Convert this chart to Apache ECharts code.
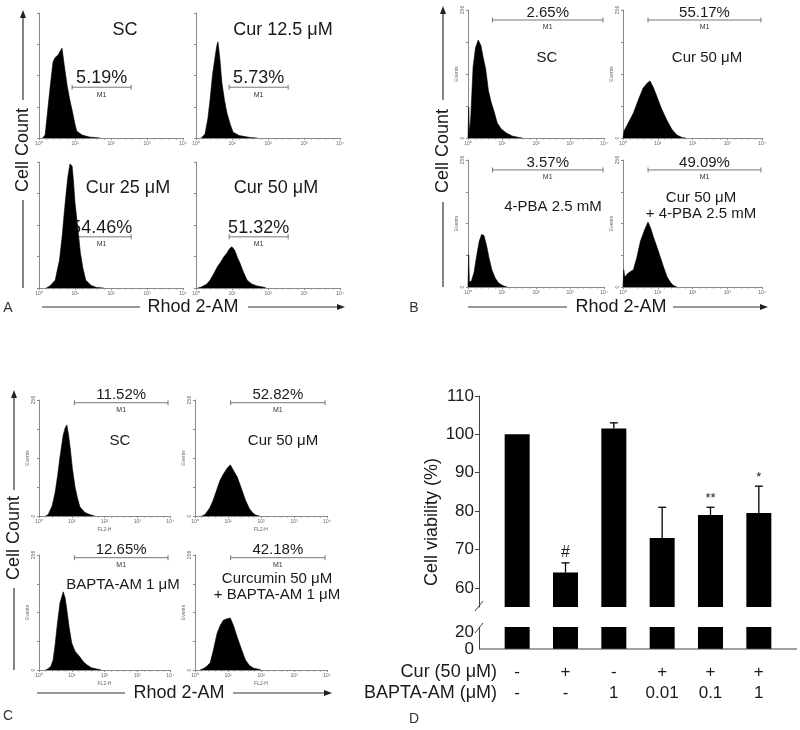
<!DOCTYPE html>
<html>
<head>
<meta charset="utf-8">
<script src="https://cdn.jsdelivr.net/npm/echarts@6/dist/echarts.min.js"></script>
<style>
  html, body { margin: 0; padding: 0; background: #fff; }
  #main { width: 800px; height: 730px; }
</style>
</head>
<body>
<div id="main"></div>
<script>
// histogram outlines: [log10 fluorescence, events]
var histA_SC = [[0.1,0],[0.17,6],[0.3,98],[0.39,156],[0.45,165],[0.53,170],[0.59,178],[0.64,184],[0.7,150],[0.78,108],[0.85,80],[0.92,57],[1.0,28],[1.05,14],[1.2,6],[1.4,2],[1.7,0]];
var histA_Cur12 = [[0.15,0],[0.25,8],[0.33,40],[0.39,78],[0.46,130],[0.53,166],[0.58,190],[0.61,197],[0.66,165],[0.72,113],[0.79,78],[0.86,51],[0.95,28],[1.03,12],[1.2,5],[1.5,1],[1.7,0]];
var histA_Cur25 = [[0.2,0],[0.3,4],[0.45,16],[0.57,57],[0.65,110],[0.7,152],[0.75,190],[0.8,225],[0.86,252],[0.92,248],[0.96,215],[1.0,173],[1.08,120],[1.15,71],[1.22,40],[1.3,16],[1.45,5],[1.6,1],[1.8,0]];
var histA_Cur50 = [[0.05,0],[0.15,2],[0.3,8],[0.39,16],[0.5,30],[0.6,44],[0.67,51],[0.78,64],[0.86,71],[0.93,80],[1.0,84],[1.08,76],[1.15,62],[1.22,51],[1.32,32],[1.42,16],[1.55,8],[1.7,4],[1.86,2],[1.95,0]];

var histB_SC = [[0,0],[0.02,62],[0.04,10],[0.08,40],[0.15,142],[0.22,180],[0.3,196],[0.38,185],[0.45,160],[0.52,138],[0.6,95],[0.68,72],[0.78,50],[0.86,30],[0.98,18],[1.13,10],[1.3,4],[1.5,1],[1.6,0]];
var histB_Cur50 = [[0,0],[0.03,14],[0.15,30],[0.3,50],[0.45,78],[0.58,100],[0.7,110],[0.78,114],[0.88,100],[0.98,82],[1.1,60],[1.26,36],[1.4,18],[1.55,6],[1.7,1],[1.8,0]];
var histB_PBA = [[0,0],[0.02,65],[0.04,10],[0.1,12],[0.18,30],[0.25,61],[0.33,92],[0.4,106],[0.47,104],[0.55,82],[0.62,58],[0.7,35],[0.8,18],[0.9,8],[1.05,2],[1.15,0]];
var histB_CurPBA = [[0,0],[0.02,35],[0.05,20],[0.15,28],[0.3,35],[0.4,60],[0.5,92],[0.63,117],[0.72,131],[0.8,118],[0.87,102],[0.97,82],[1.07,61],[1.17,40],[1.27,20],[1.37,9],[1.45,3],[1.55,0]];

var histC_SC = [[0.2,0],[0.28,3],[0.4,22],[0.49,51],[0.57,90],[0.64,130],[0.74,179],[0.8,195],[0.85,201],[0.9,180],[0.95,152],[1.02,105],[1.1,64],[1.18,38],[1.25,20],[1.4,8],[1.56,3],[1.7,0]];
var histC_Cur50 = [[0.2,0],[0.3,3],[0.45,18],[0.55,35],[0.66,58],[0.76,79],[0.87,94],[0.98,106],[1.07,113],[1.17,100],[1.28,86],[1.4,62],[1.53,35],[1.65,16],[1.76,6],[1.84,2],[1.95,0]];
var histC_BAPTA = [[0.2,0],[0.28,3],[0.36,8],[0.43,22],[0.49,55],[0.55,96],[0.64,149],[0.74,174],[0.8,160],[0.85,134],[0.92,95],[1.0,60],[1.1,42],[1.25,29],[1.36,18],[1.47,11],[1.6,5],[1.77,2],[1.9,0]];
var histC_CurBAPTA = [[0.15,0],[0.25,3],[0.35,8],[0.46,16],[0.56,45],[0.67,82],[0.77,100],[0.86,111],[0.97,114],[1.07,116],[1.17,98],[1.28,73],[1.4,48],[1.53,22],[1.65,10],[1.78,4],[1.9,2],[2.0,0]];

// M1 gates [from, to, height] and their percentages
var gateA = [0.92, 2.56, 104];
var gateB = [0.72, 3.97, 236];
var gateC = [1.08, 3.94, 250];
var pctA = ['5.19%', '5.73%', '54.46%', '51.32%'];
var pctB = ['2.65%', '55.17%', '3.57%', '49.09%'];
var pctC = ['11.52%', '52.82%', '12.65%', '42.18%'];

// panel D
var curRow = ['-', '+', '-', '+', '+', '+'];
var baptaRow = ['-', '-', '1', '0.01', '0.1', '1'];
var viability = [100, 64, 101.5, 73, 79, 79.5];
var sem = [0, 2.5, 1.5, 8, 2, 7];
var marks = ['', '#', '', '', '**', '*'];
var viabTicks = [60, 70, 80, 90, 100, 110];

var FONT = '"Liberation Sans", Arial, sans-serif';
var INK = '#1a1a1a';
var AXIS = '#8a8a8a';
var SUP = ['\u2070', '\u00B9', '\u00B2', '\u00B3', '\u2074'];

var panels = [
  {data: histA_SC, grid: [39, 13, 144, 125], title: 'SC', tx: 125, ty: 30, pct: pctA[0], gate: gateA, kind: 'A'},
  {data: histA_Cur12, grid: [196, 13, 144, 125], title: 'Cur 12.5 \u03bcM', tx: 283, ty: 30, pct: pctA[1], gate: gateA, kind: 'A'},
  {data: histA_Cur25, grid: [39, 162, 144, 126], title: 'Cur 25 \u03bcM', tx: 128, ty: 188, pct: pctA[2], gate: gateA, kind: 'A'},
  {data: histA_Cur50, grid: [196, 162, 144, 126], title: 'Cur 50 \u03bcM', tx: 276, ty: 188, pct: pctA[3], gate: gateA, kind: 'A'},
  {data: histB_SC, grid: [468, 10, 136, 128], title: 'SC', tx: 547, ty: 58, pct: pctB[0], gate: gateB, kind: 'B'},
  {data: histB_Cur50, grid: [623, 10, 139, 128], title: 'Cur 50 \u03bcM', tx: 707, ty: 58, pct: pctB[1], gate: gateB, kind: 'B'},
  {data: histB_PBA, grid: [468, 160, 136, 127], title: '4-PBA 2.5 mM', tx: 553, ty: 207, pct: pctB[2], gate: gateB, kind: 'B'},
  {data: histB_CurPBA, grid: [623, 160, 139, 127], title: 'Cur 50 \u03bcM\n+ 4-PBA 2.5 mM', tx: 701, ty: 206, pct: pctB[3], gate: gateB, kind: 'B'},
  {data: histC_SC, grid: [39, 400, 131, 116], title: 'SC', tx: 120, ty: 441, pct: pctC[0], gate: gateC, kind: 'C'},
  {data: histC_Cur50, grid: [195, 400, 132, 116], title: 'Cur 50 \u03bcM', tx: 283, ty: 441, pct: pctC[1], gate: gateC, kind: 'C'},
  {data: histC_BAPTA, grid: [39, 555, 131, 115], title: 'BAPTA-AM 1 \u03bcM', tx: 123, ty: 585, pct: pctC[2], gate: gateC, kind: 'C'},
  {data: histC_CurBAPTA, grid: [195, 555, 132, 115], title: 'Curcumin 50 \u03bcM\n+ BAPTA-AM 1 \u03bcM', tx: 277, ty: 587, pct: pctC[3], gate: gateC, kind: 'C'}
];

var grids = [], xAxes = [], yAxes = [], series = [], graphics = [];

function text(str, x, y, size, extra) {
  extra = extra || {};
  return {
    type: 'text', x: x, y: y, rotation: extra.rotation || 0, z: 10,
    style: {
      text: str, fill: extra.color || INK, font: size + 'px ' + FONT,
      align: extra.align || 'center', verticalAlign: 'middle', lineHeight: extra.lineHeight
    }
  };
}
function seg(x1, y1, x2, y2, color, w) {
  return {type: 'line', z: 10, shape: {x1: x1, y1: y1, x2: x2, y2: y2}, style: {stroke: color || '#333', lineWidth: w || 1.2}};
}
function head(points) {
  return {type: 'polygon', z: 10, shape: {points: points}, style: {fill: '#222'}};
}

panels.forEach(function (p, i) {
  var big = p.kind === 'A';
  grids.push({left: p.grid[0], top: p.grid[1], width: p.grid[2], height: p.grid[3], outerBoundsMode: 'none'});
  xAxes.push({
    gridIndex: i, type: 'value', min: 0, max: 4, interval: 1,
    axisLine: {lineStyle: {color: AXIS, width: 1}},
    axisTick: {length: 2, lineStyle: {color: AXIS}},
    minorTick: {show: true, splitNumber: 5, length: 1.5, lineStyle: {color: AXIS}},
    splitLine: {show: false},
    axisLabel: {fontSize: 5, color: '#666', margin: 3, showMaxLabel: true,
      formatter: function (v) { return '10' + SUP[v]; }},
    name: p.kind === 'C' ? 'FL2-H' : '', nameLocation: 'middle', nameGap: 11,
    nameTextStyle: {fontSize: 5, color: '#666'}
  });
  yAxes.push({
    gridIndex: i, type: 'value', min: 0, max: 256, interval: 64,
    axisLine: {show: true, lineStyle: {color: AXIS, width: 1}},
    axisTick: {show: true, length: 2, lineStyle: {color: AXIS}},
    splitLine: {show: false},
    axisLabel: {show: !big, fontSize: 5, color: '#666', rotate: 90, margin: 3,
      formatter: function (v) { return (v === 0 || v === 256) ? String(v) : ''; }},
    name: big ? '' : 'Events', nameLocation: 'middle', nameGap: 7, nameRotate: 90,
    nameTextStyle: {fontSize: 5, color: '#666'}
  });
  series.push({
    type: 'line', xAxisIndex: i, yAxisIndex: i, data: p.data, symbol: 'none', z: 3,
    lineStyle: {color: '#000', width: 0.6}, areaStyle: {color: '#000', opacity: 1}
  });
  var pctSize = big ? 18 : 15;
  series.push({
    type: 'custom', xAxisIndex: i, yAxisIndex: i, z: 2, clip: false,
    data: [p.gate],
    renderItem: function (params, api) {
      var a = api.coord([api.value(0), api.value(2)]);
      var b = api.coord([api.value(1), api.value(2)]);
      var st = {stroke: '#777', lineWidth: 1};
      var cx = (a[0] + b[0]) / 2;
      return {type: 'group', children: [
        {type: 'line', shape: {x1: a[0], y1: a[1], x2: b[0], y2: b[1]}, style: st},
        {type: 'line', shape: {x1: a[0], y1: a[1] - 2.5, x2: a[0], y2: a[1] + 2.5}, style: st},
        {type: 'line', shape: {x1: b[0], y1: b[1] - 2.5, x2: b[0], y2: b[1] + 2.5}, style: st},
        {type: 'text', x: cx, y: a[1] - (big ? 9 : 7.5),
          style: {text: p.pct, font: pctSize + 'px ' + FONT, fill: INK, align: 'center', verticalAlign: 'middle'}},
        {type: 'text', x: cx, y: a[1] + 7.5,
          style: {text: 'M1', font: '7px ' + FONT, fill: '#333', align: 'center', verticalAlign: 'middle'}}
      ]};
    }
  });
  graphics.push(text(p.title, p.tx, p.ty, big ? 18 : 15, {lineHeight: big ? 18 : 16}));
});

// Cell Count / Rhod 2-AM arrows
[[23, 10, 100, 150, 200, 288], [443, 6, 100, 151, 202, 287], [14, 390, 490, 538, 588, 670]].forEach(function (a) {
  graphics.push(seg(a[0], a[1] + 4, a[0], a[2]));
  graphics.push(seg(a[0], a[4], a[0], a[5]));
  graphics.push(head([[a[0], a[1]], [a[0] - 3, a[1] + 8], [a[0] + 3, a[1] + 8]]));
  graphics.push(text('Cell Count', a[0], a[3], 18, {rotation: Math.PI / 2}));
});
[[42, 140, 193, 248, 345, 307], [468, 567, 621, 673, 768, 307], [37, 125, 179, 233, 332, 693]].forEach(function (a) {
  graphics.push(seg(a[0], a[5], a[1], a[5]));
  graphics.push(seg(a[3], a[5], a[4] - 4, a[5]));
  graphics.push(head([[a[4], a[5]], [a[4] - 8, a[5] - 3], [a[4] - 8, a[5] + 3]]));
  graphics.push(text('Rhod 2-AM', a[2], a[5], 18));
});
graphics.push(text('A', 8, 308, 14, {color: '#333'}));
graphics.push(text('B', 414, 308, 14, {color: '#333'}));
graphics.push(text('C', 8, 716, 14, {color: '#333'}));
graphics.push(text('D', 414, 719, 14, {color: '#333'}));

// panel D: broken-axis bar chart (upper and lower grids)
var cats = curRow.map(function (c, i) { return c + '|' + baptaRow[i]; });
grids.push({left: 493, top: 396, width: 290, height: 211, outerBoundsMode: 'none'});
grids.push({left: 493, top: 627, width: 290, height: 22, outerBoundsMode: 'none'});
xAxes.push({gridIndex: 12, type: 'category', data: cats, axisLine: {show: false}, axisTick: {show: false}, axisLabel: {show: false}});
xAxes.push({
  gridIndex: 13, type: 'category', data: cats, axisLine: {show: false}, axisTick: {show: false},
  axisLabel: {fontSize: 17, color: INK, lineHeight: 21, margin: 13, fontFamily: FONT,
    formatter: function (v) { return v.split('|').join('\n'); }}
});
yAxes.push({
  gridIndex: 12, type: 'value', min: 55, max: 110, offset: 14,
  axisLine: {show: true, lineStyle: {color: '#444', width: 1}},
  axisTick: {show: true, length: 4, customValues: viabTicks, lineStyle: {color: '#444'}},
  axisLabel: {fontSize: 17, color: INK, margin: 5, fontFamily: FONT, customValues: viabTicks},
  splitLine: {show: false}
});
yAxes.push({
  gridIndex: 13, type: 'value', min: 0, max: 26, interval: 20, offset: 14,
  axisLine: {show: true, lineStyle: {color: '#444', width: 1}},
  axisTick: {show: false},
  axisLabel: {fontSize: 17, color: INK, margin: 5, fontFamily: FONT, showMaxLabel: false},
  splitLine: {show: false}
});
series.push({type: 'bar', xAxisIndex: 12, yAxisIndex: 12, data: viability, barWidth: 25, clip: true, itemStyle: {color: '#000'}});
series.push({type: 'bar', xAxisIndex: 13, yAxisIndex: 13, data: viability, barWidth: 25, clip: true, itemStyle: {color: '#000'}});
series.push({
  type: 'custom', xAxisIndex: 12, yAxisIndex: 12, clip: false, z: 4,
  data: viability.map(function (v, i) { return [i, v, sem[i]]; }),
  renderItem: function (params, api) {
    var i = api.value(0), v = api.value(1), e = api.value(2);
    var base = api.coord([i, v]);
    var top = api.coord([i, v + e]);
    var kids = [];
    if (e > 0) {
      kids.push({type: 'line', shape: {x1: base[0], y1: base[1], x2: top[0], y2: top[1]}, style: {stroke: '#000', lineWidth: 1.3}});
      kids.push({type: 'line', shape: {x1: top[0] - 4, y1: top[1], x2: top[0] + 4, y2: top[1]}, style: {stroke: '#000', lineWidth: 1.3}});
    }
    var m = marks[params.dataIndex];
    if (m) {
      kids.push({type: 'text', x: top[0], y: top[1] - 2,
        style: {text: m, font: (m === '#' ? 16 : 13) + 'px ' + FONT, fill: INK, align: 'center', verticalAlign: 'bottom'}});
    }
    return {type: 'group', children: kids};
  }
});
graphics.push(seg(479, 649, 797, 649, '#444', 1));
graphics.push(seg(475, 611, 483, 601, '#444', 1));
graphics.push(seg(475, 633, 483, 623, '#444', 1));
graphics.push(text('Cell viability (%)', 432, 522, 18, {rotation: Math.PI / 2}));
graphics.push(text('Cur (50 \u03bcM)', 497, 672, 18, {align: 'right'}));
graphics.push(text('BAPTA-AM (\u03bcM)', 497, 693, 18, {align: 'right'}));

var myChart = echarts.init(document.getElementById('main'));
myChart.setOption({
  animation: false,
  backgroundColor: '#fff',
  textStyle: {fontFamily: FONT},
  grid: grids,
  xAxis: xAxes,
  yAxis: yAxes,
  series: series,
  graphic: graphics
});
</script>
</body>
</html>
